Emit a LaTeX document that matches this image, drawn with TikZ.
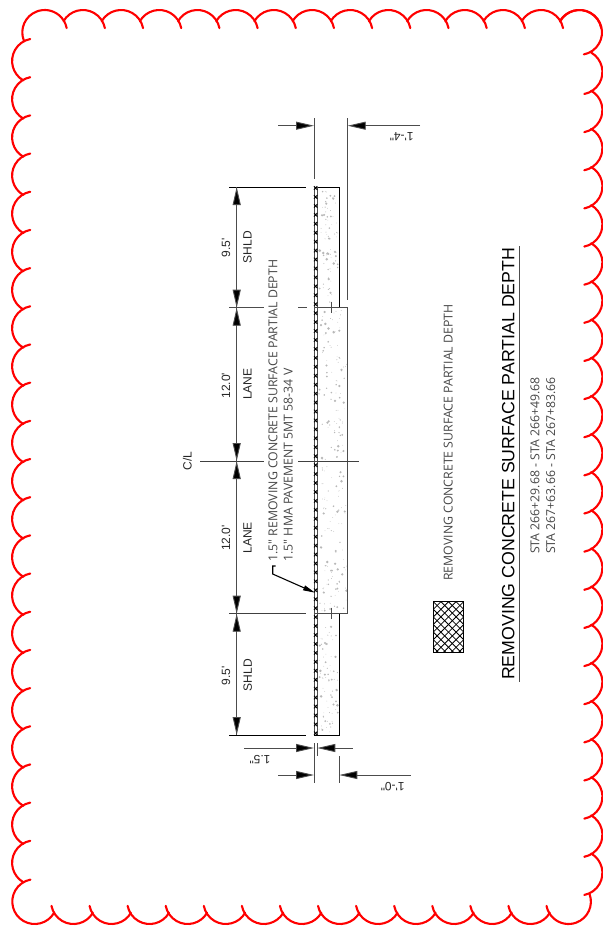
\documentclass[tikz,border=0pt]{standalone}
\usepackage{fontspec}
\setmainfont{Liberation Sans}[Ligatures=TeXOff]
\newfontfamily\notefont{Open Sans}
\usetikzlibrary{arrows.meta}
\definecolor{dimgray}{gray}{0.3}
\tikzset{
  cloudline/.style={draw=red,line width=2.1pt,line cap=round},
  dimline/.style={draw=dimgray,line width=0.9pt},
  slabline/.style={draw=black,line width=1pt},
  tipped/.style={-{Triangle[length=18pt,width=8pt,fill=black]}},
  dimtext/.style={font=\fontsize{12}{14}\selectfont,text=black!85,inner sep=0pt},
  dimrot/.style={dimtext,rotate=90},
  dimflip/.style={dimtext,rotate=180},
  notetext/.style={font=\notefont\fontsize{12.3}{14}\selectfont,text=black!72,inner sep=0pt,rotate=90},
}
\begin{document}
\begin{tikzpicture}[x=1pt,y=-1pt]
\useasboundingbox (0,0) rectangle (603,930);
% revision cloud
\foreach \k in {0,...,13}{\pgfmathsetmacro\cx{82.9+38.18*\k}
  \draw[cloudline] (\cx,32.4) ++(-150:22.4) arc[start angle=-150,end angle=-11,radius=22.4];}
\draw[cloudline] (44.7,32.4) ++(-201:22.4) arc[start angle=-201,end angle=-11,radius=22.4];
\foreach \k in {0,...,21}{\pgfmathsetmacro\cy{72+38.14*\k}
  \draw[cloudline] (580,\cy) ++(-60:22.4) arc[start angle=-60,end angle=79,radius=22.4];}
\draw[cloudline] (579.6,32.4) ++(-150:22.4) arc[start angle=-150,end angle=79,radius=22.4];
\foreach \k in {0,...,13}{\pgfmathsetmacro\cx{568.5-38.08*\k}
  \ifnum\k=0\relax
    \draw[cloudline] (\cx,901.6) ++(-20:22.4) arc[start angle=-20,end angle=169,radius=22.4];
  \else
    \draw[cloudline] (\cx,901.6) ++(30:22.4) arc[start angle=30,end angle=169,radius=22.4];
  \fi}
\foreach \k in {0,...,21}{\pgfmathsetmacro\cy{61+38.18*\k}
  \draw[cloudline] (34.5,\cy) ++(-240:22.4) arc[start angle=-240,end angle=-101,radius=22.4];}
\draw[cloudline] (34.7,901.6) ++(30:22.4) arc[start angle=30,end angle=259,radius=22.4];
% concrete speckle
\pgfmathsetseed{4217}
\foreach \i in {1,...,75}{\pgfmathsetmacro\px{319+19*rnd}\pgfmathsetmacro\py{189+116*rnd}\pgfmathsetmacro\pr{0.35+1.1*rnd^3}
  \fill[black!28] (\px,\py) circle[radius=\pr];}
\foreach \i in {1,...,190}{\pgfmathsetmacro\px{319+27.5*rnd}\pgfmathsetmacro\py{310+302*rnd}\pgfmathsetmacro\pr{0.35+1.1*rnd^3}
  \fill[black!28] (\px,\py) circle[radius=\pr];}
\foreach \i in {1,...,75}{\pgfmathsetmacro\px{319+19*rnd}\pgfmathsetmacro\py{616+117*rnd}\pgfmathsetmacro\pr{0.35+1.1*rnd^3}
  \fill[black!28] (\px,\py) circle[radius=\pr];}
% slab
\draw[slabline] (314,187) -- (339.3,187) -- (339.3,307.7);
\draw[dimline] (339.3,307.7) -- (347.7,307.7) -- (347.7,613.7) -- (314,613.7);
\draw[slabline] (339.3,613.7) -- (339.3,735) -- (314,735);
\draw[dimline] (314,307.7) -- (339.3,307.7);
\draw[dimline] (331,301.7) -- (331,313);
\draw[dimline] (331,607.7) -- (331,619.3);
% hatched strip
\draw[dimline] (314,187) -- (314,735);
\draw[dimline] (317.3,187) -- (317.3,735);
\foreach \k in {0,...,61}{\pgfmathsetmacro\yy{188+8.94*\k}
  \draw[black,line width=0.9pt] (314,\yy-1.8) -- (317.3,\yy+1.8) (317.3,\yy-1.8) -- (314,\yy+1.8);}
% extension lines
\draw[dimline] (314,118) -- (314,179.3);
\draw[dimline] (347.7,118) -- (347.7,300);
\draw[slabline] (229.3,187) -- (306,187);
\draw[dimline] (229.3,307.7) -- (264,307.7);
\draw[dimline] (298.3,307.7) -- (306.7,307.7);
\draw[slabline,draw=black!75] (200,461) -- (264,461);
\draw[slabline,draw=black!75] (298.3,461) -- (359.3,461);
\draw[dimline,draw=black!75] (229.3,613.7) -- (306,613.7);
\draw[slabline] (229.3,735) -- (306,735);
\draw[dimline] (314,743.3) -- (314,782.7);
\draw[dimline] (317.3,743.3) -- (317.3,755.7);
\draw[dimline] (339.3,756) -- (339.3,782.7);
% dimension lines
\coordinate (a1) at (236.7,187); \coordinate (a2) at (236.7,307.7);
\coordinate (a3) at (236.7,461); \coordinate (a4) at (236.7,613.7); \coordinate (a5) at (236.7,735);
\draw[dimline] (a1) -- (a5);
\foreach \p/\q in {a1/{0,18},a2/{0,-18},a2/{0,18},a3/{0,-18},a3/{0,18},a4/{0,-18},a4/{0,18},a5/{0,-18}}{
  \draw[dimline,tipped] (\p) ++(\q) -- (\p);}
\draw[dimline,tipped] (278,125.7) -- (314,125.7);
\draw[dimline,tipped] (420,125.7) -- (347.7,125.7);
\draw[dimline,tipped] (244.3,748) -- (314,748);
\draw[dimline,tipped] (352.7,748) -- (317.3,748);
\draw[dimline,tipped] (278.3,775) -- (314,775);
\draw[dimline,tipped] (410.7,775) -- (339.3,775);
% leader
\coordinate (lead0) at (275.5,566); \coordinate (lead1) at (272.7,566); \coordinate (lead2) at (272.7,574); \coordinate (lead3) at (315,592.7);
\draw[black,line width=1.1pt,-{Triangle[length=12pt,width=5pt,fill=black]}] (lead0) -- (lead1) -- (lead2) -- (lead3);
% dimension labels
\node[dimflip] (d1) at (401.7,137) {1'-4"};
\node[dimflip] (d2) at (260,759.3) {1.5"};
\node[dimflip] (d3) at (392.7,786.7) {1'-0"};
\node[dimrot] (t1) at (226,247.7) {9.5'};
\node[dimrot] (t2) at (247.5,247.3) {SHLD};
\node[dimrot] (t3) at (226,385.7) {12.0'};
\node[dimrot] (t4) at (247.5,384.3) {LANE};
\node[dimrot] (t5) at (187.3,460.7) {C/L};
\node[dimrot] (t6) at (226,538) {12.0'};
\node[dimrot] (t7) at (247.5,537.7) {LANE};
\node[dimrot] (t8) at (226,675.7) {9.5'};
\node[dimrot] (t9) at (247.7,675) {SHLD};
% note
\node[notetext,anchor=west] (n1) at (273,561.7) {1.5" REMOVING CONCRETE SURFACE PARTIAL DEPTH};
\node[notetext,anchor=west] (n2) at (288.3,561.7) {1.5" HMA PAVEMENT 5MT 58-34 V};
% legend
\node[notetext] (l1) at (448.3,442.5) {REMOVING CONCRETE SURFACE PARTIAL DEPTH};
\begin{scope}
\clip (433.3,601.7) rectangle (463.3,652.3);
\foreach \k in {-9,...,12}{
  \draw[black,line width=0.8pt] (433.3+7.6*\k,601.7) -- ++(60,60);
  \draw[black,line width=0.8pt] (433.3+7.6*\k,601.7) -- ++(-60,60);}
\end{scope}
\draw[black,line width=1pt] (433.3,601.7) rectangle (463.3,652.3);
% title
\node[dimrot,font=\fontsize{17.75}{20}\selectfont,text=black] (title) at (508.3,463.8) {REMOVING CONCRETE SURFACE PARTIAL DEPTH};
\draw[black!70,line width=1pt] (519,246) -- (519,681.7);
\node[notetext] (s1) at (535,465.5) {STA 266+29.68 - STA 266+49.68};
\node[notetext] (s2) at (550.7,465.5) {STA 267+63.66 - STA 267+83.66};
\end{tikzpicture}
\end{document}
